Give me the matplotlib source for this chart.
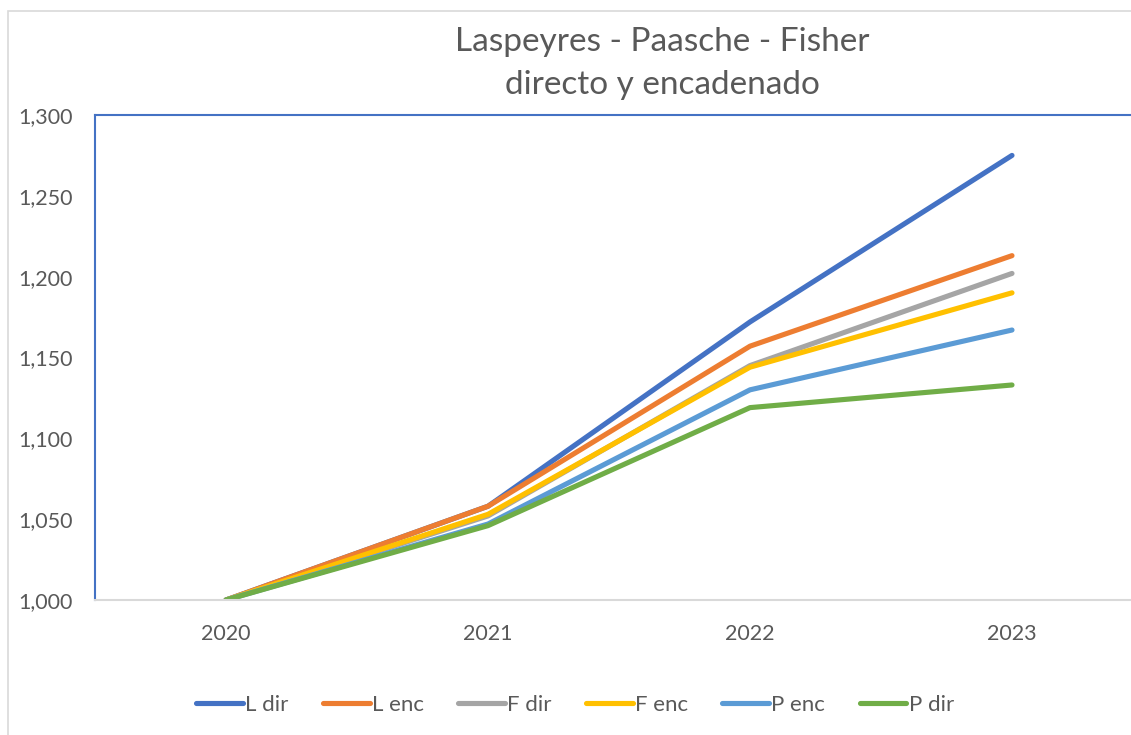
import matplotlib

matplotlib.use("Agg")
import matplotlib.pyplot as plt
from matplotlib.patches import Rectangle
from matplotlib.ticker import FuncFormatter

years = ["2020", "2021", "2022", "2023"]
series_names = ["L dir", "L enc", "F dir", "F enc", "P enc", "P dir"]
l_dir = [1.000, 1.058, 1.172, 1.275]
l_enc = [1.000, 1.058, 1.157, 1.213]
f_dir = [1.000, 1.052, 1.145, 1.202]
f_enc = [1.000, 1.053, 1.144, 1.190]
p_enc = [1.000, 1.047, 1.130, 1.167]
p_dir = [1.000, 1.046, 1.119, 1.133]
colors = ["#4472C4", "#ED7D31", "#A5A5A5", "#FFC000", "#5B9BD5", "#70AD47"]

plt.rcParams["font.family"] = ["Lato", "DejaVu Sans"]

W, H = 1131, 735
fig = plt.figure(figsize=(W / 100, H / 100), dpi=100)
# chart frame (light grey border)
fig.patches.append(Rectangle((8 / W, -0.01), 1.2, (H - 11) / H + 0.01,
                             transform=fig.transFigure, fill=False,
                             edgecolor="#D9D9D9", linewidth=1.2))

ax = fig.add_axes([95 / W, 1 - 600 / H, (1143 - 95) / W, (600 - 115) / H])
x = range(len(years))
for name, vals, c in zip(series_names,
                         [l_dir, l_enc, f_dir, f_enc, p_enc, p_dir], colors):
    ax.plot(x, vals, color=c, linewidth=3.7, label=name,
            solid_capstyle="round", solid_joinstyle="round")

ax.set_xlim(-0.5, len(years) - 0.5)
ax.set_ylim(1.0, 1.3)
ax.set_xticks(list(x))
ax.set_xticklabels(years)
ax.set_yticks([1.0, 1.05, 1.1, 1.15, 1.2, 1.25, 1.3])
ax.yaxis.set_major_formatter(FuncFormatter(lambda v, _: f"{v:.3f}".replace(".", ",")))
ax.tick_params(length=0, labelsize=15.5, colors="#595959")
ax.tick_params(axis="x", pad=17)
ax.tick_params(axis="y", pad=16)
for side in ["left", "top", "right"]:
    ax.spines[side].set_color("#4472C4")
    ax.spines[side].set_linewidth(1.5)
ax.spines["bottom"].set_color("#D9D9D9")
ax.spines["bottom"].set_linewidth(1.5)
ax.patch.set_alpha(0)

fig.text(662 / W, 1 - 42 / H, "Laspeyres - Paasche - Fisher", ha="center",
         va="center", fontsize=24, color="#595959")
fig.text(662 / W, 1 - 85 / H, "directo y encadenado", ha="center",
         va="center", fontsize=24, color="#595959")

leg = fig.legend(loc="center", bbox_to_anchor=(575 / W, 1 - 705 / H), ncol=6,
                 frameon=False, fontsize=16, handlelength=2.1,
                 handletextpad=0.1, columnspacing=1.55)
for t in leg.get_texts():
    t.set_color("#595959")

fig.savefig("out.png", dpi=100)
